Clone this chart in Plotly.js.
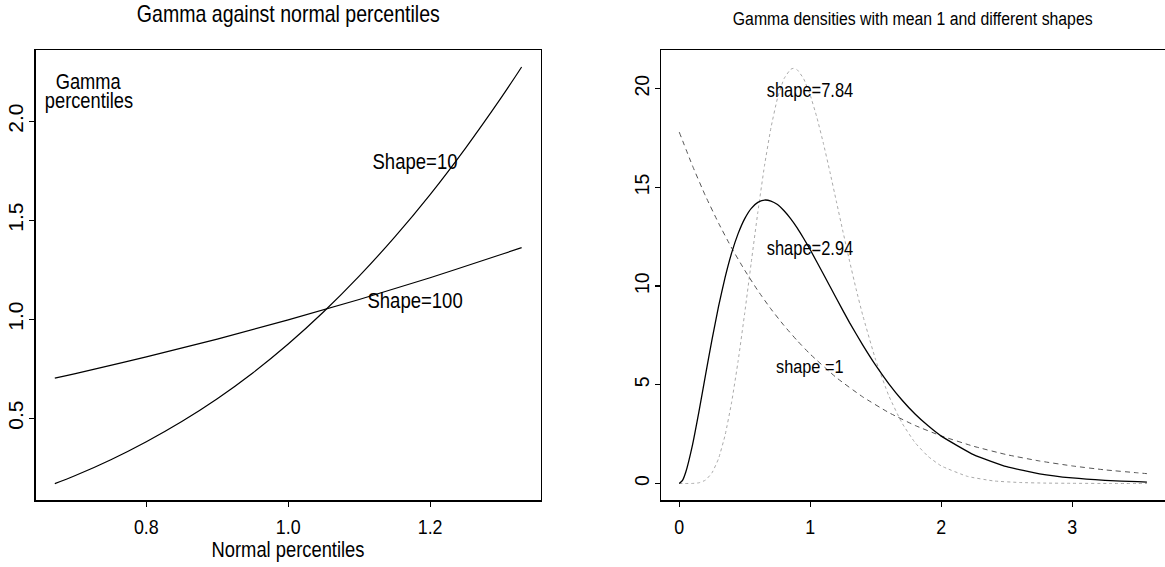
<!DOCTYPE html>
<html>
<head>
<meta charset="utf-8">
<script src="https://cdn.plot.ly/plotly-3.0.1.min.js"></script>
<style>
  html, body { margin: 0; padding: 0; background: #fff; overflow: hidden; }
  #chart { width: 1165px; height: 567px; }
</style>
</head>
<body>
<div id="chart"></div>
<script>
// ---------- Left panel: Gamma against normal percentiles ----------
const normalX100 = [0.671, 0.70, 0.80, 0.90, 1.00, 1.10, 1.20, 1.30, 1.329];
const gammaY100  = [0.703, 0.726, 0.810, 0.900, 0.997, 1.100, 1.210, 1.327, 1.362];

const normalX10 = [0.671, 0.70, 0.75, 0.80, 0.85, 0.90, 0.95, 1.00, 1.05, 1.10, 1.15, 1.20, 1.25, 1.30, 1.329];
const gammaY10  = [0.170, 0.211, 0.291, 0.382, 0.484, 0.599, 0.729, 0.875, 1.038, 1.218, 1.415, 1.630, 1.865, 2.118, 2.274];

const leftXTicks = [0.8, 1.0, 1.2];
const leftXTickText = ['0.8', '1.0', '1.2'];
const leftYTicks = [0.5, 1.0, 1.5, 2.0];
const leftYTickText = ['0.5', '1.0', '1.5', '2.0'];

// ---------- Right panel: Gamma densities with mean 1 ----------
const xShape294 = [0, 0.025, 0.05, 0.1, 0.15, 0.2, 0.25, 0.3, 0.35, 0.4, 0.45, 0.5, 0.55, 0.6, 0.65, 0.7, 0.75, 0.8, 0.85, 0.9, 0.95, 1.0, 1.1, 1.2, 1.3, 1.4, 1.5, 1.6, 1.7, 1.8, 1.9, 2.0, 2.25, 2.5, 2.75, 3.0, 3.25, 3.5, 3.57];
const yShape294 = [0, 0.16, 0.58, 1.92, 3.63, 5.48, 7.29, 8.97, 10.44, 11.68, 12.67, 13.42, 13.94, 14.24, 14.36, 14.31, 14.13, 13.82, 13.42, 12.95, 12.41, 11.84, 10.61, 9.37, 8.15, 7.02, 5.98, 5.05, 4.23, 3.52, 2.92, 2.40, 1.45, 0.85, 0.49, 0.28, 0.16, 0.09, 0.07];

const xShape784 = [0, 0.1, 0.15, 0.2, 0.25, 0.3, 0.35, 0.4, 0.45, 0.5, 0.55, 0.6, 0.65, 0.7, 0.75, 0.8, 0.85, 0.87, 0.9, 0.95, 1.0, 1.05, 1.1, 1.15, 1.2, 1.25, 1.3, 1.35, 1.4, 1.5, 1.6, 1.7, 1.8, 1.9, 2.0, 2.2, 2.4, 2.6, 2.8, 3.0, 3.3, 3.57];
const yShape784 = [0, 0.003, 0.036, 0.17, 0.54, 1.26, 2.45, 4.12, 6.23, 8.65, 11.22, 13.75, 16.07, 18.02, 19.52, 20.51, 20.98, 21.03, 20.96, 20.50, 19.67, 18.56, 17.24, 15.79, 14.27, 12.75, 11.27, 9.85, 8.54, 6.25, 4.44, 3.07, 2.07, 1.37, 0.89, 0.36, 0.13, 0.05, 0.02, 0.01, 0, 0];

const xShape1 = [0, 0.1, 0.2, 0.3, 0.4, 0.5, 0.6, 0.7, 0.8, 0.9, 1.0, 1.2, 1.4, 1.6, 1.8, 2.0, 2.25, 2.5, 2.75, 3.0, 3.25, 3.5, 3.57];
const yShape1 = [17.8, 16.11, 14.57, 13.19, 11.93, 10.80, 9.77, 8.84, 8.00, 7.24, 6.55, 5.36, 4.39, 3.59, 2.94, 2.41, 1.88, 1.46, 1.14, 0.89, 0.69, 0.54, 0.50];

const rightXTicks = [0, 1, 2, 3];
const rightXTickText = ['0', '1', '2', '3'];
const rightYTicks = [0, 5, 10, 15, 20];
const rightYTickText = ['0', '5', '10', '15', '20'];

const FONT = '"Liberation Sans", Arial, Helvetica, sans-serif';
const SQUEEZE = 0.85; // the reference uses a narrow (condensed) sans face

const traces = [
  {x: normalX10, y: gammaY10, xaxis: 'x', yaxis: 'y', mode: 'lines',
   line: {color: '#000', width: 1.2, shape: 'spline', smoothing: 1}, hoverinfo: 'skip'},
  {x: normalX100, y: gammaY100, xaxis: 'x', yaxis: 'y', mode: 'lines',
   line: {color: '#000', width: 1.2, shape: 'spline', smoothing: 1}, hoverinfo: 'skip'},
  {x: xShape784, y: yShape784, xaxis: 'x2', yaxis: 'y2', mode: 'lines',
   line: {color: '#aaaaaa', width: 1, dash: 'dot', shape: 'spline', smoothing: 0.4}, hoverinfo: 'skip'},
  {x: xShape1, y: yShape1, xaxis: 'x2', yaxis: 'y2', mode: 'lines',
   line: {color: '#555555', width: 1, dash: '5px,4px', shape: 'spline', smoothing: 0.4}, hoverinfo: 'skip'},
  {x: xShape294, y: yShape294, xaxis: 'x2', yaxis: 'y2', mode: 'lines',
   line: {color: '#000', width: 1.3, shape: 'spline', smoothing: 0.4}, hoverinfo: 'skip'}
];

const axisCommon = {
  showgrid: false, zeroline: false, showline: true, linecolor: '#000', linewidth: 1.5,
  ticks: 'outside', ticklen: 5, tickwidth: 1.2, tickcolor: '#000',
  tickfont: {family: FONT, size: 21, color: '#000'}, fixedrange: true
};

function ann(text, xref, yref, x, y, size) {
  return {text: text, xref: xref, yref: yref, x: x, y: y, xanchor: 'center', yanchor: 'middle',
          showarrow: false, font: {family: FONT, size: size, color: '#000'}};
}

const layout = {
  width: 1165, height: 567,
  margin: {l: 0, r: 0, t: 0, b: 0},
  paper_bgcolor: '#fff', plot_bgcolor: '#fff',
  showlegend: false,
  font: {family: FONT, color: '#000'},
  xaxis: Object.assign({}, axisCommon, {
    domain: [35.5 / 1165, 540.5 / 1165], range: [0.6438, 1.3556], mirror: true,
    tickmode: 'array', tickvals: leftXTicks, ticktext: leftXTickText,
    ticklabelstandoff: 2, anchor: 'y'
  }),
  yaxis: Object.assign({}, axisCommon, {
    domain: [1 - 500 / 567, 1 - 50 / 567], range: [0.0874, 2.360], mirror: true,
    tickmode: 'array', tickvals: leftYTicks, ticktext: leftYTickText,
    tickangle: -90, tickfont: {family: FONT, size: 21, color: '#000'},
    ticklabelstandoff: -2, anchor: 'x'
  }),
  xaxis2: Object.assign({}, axisCommon, {
    domain: [661.3 / 1165, 1], range: [-0.137, 3.708], mirror: true,
    tickmode: 'array', tickvals: rightXTicks, ticktext: rightXTickText,
    ticklabelstandoff: 2, anchor: 'y2'
  }),
  yaxis2: Object.assign({}, axisCommon, {
    domain: [1 - 500 / 567, 1 - 50 / 567], range: [-0.836, 21.96], mirror: false,
    tickmode: 'array', tickvals: rightYTicks, ticktext: rightYTickText,
    tickangle: -90, tickfont: {family: FONT, size: 19.5, color: '#000'},
    ticklabelstandoff: -2, anchor: 'x2'
  }),
  annotations: [
    ann('Gamma against normal percentiles', 'paper', 'paper', 288 / 1165, 1 - 13.5 / 567, 23),
    ann('Gamma densities with mean 1 and different shapes', 'paper', 'paper', 912 / 1165, 1 - 18.5 / 567, 18.6),
    ann('Normal percentiles', 'paper', 'paper', 288 / 1165, 1 - 549 / 567, 21.6),
    ann('Gamma', 'x', 'y', 0.719, 2.196, 21.5),
    ann('percentiles', 'x', 'y', 0.719, 2.104, 21.5),
    ann('Shape=10', 'x', 'y', 1.179, 1.796, 21.8),
    ann('Shape=100', 'x', 'y', 1.179, 1.094, 21.8),
    ann('shape=7.84', 'x2', 'y2', 1.0, 19.95, 19.4),
    ann('shape=2.94', 'x2', 'y2', 1.0, 11.93, 19.4),
    ann('shape =1', 'x2', 'y2', 1.0, 5.94, 19.2)
  ]
};

Plotly.newPlot('chart', traces, layout, {staticPlot: true, displayModeBar: false}).then(function (gd) {
  // Narrow the horizontal texts around their own centres to imitate the condensed face.
  gd.querySelectorAll('.annotation-text, .xtick text, .x2tick text').forEach(function (t) {
    const bb = t.getBBox();
    const cx = bb.x + bb.width / 2;
    const prev = t.getAttribute('transform') || '';
    t.setAttribute('transform', prev + ' translate(' + cx + ',0) scale(' + SQUEEZE + ',1) translate(' + (-cx) + ',0)');
  });
});
</script>
</body>
</html>
